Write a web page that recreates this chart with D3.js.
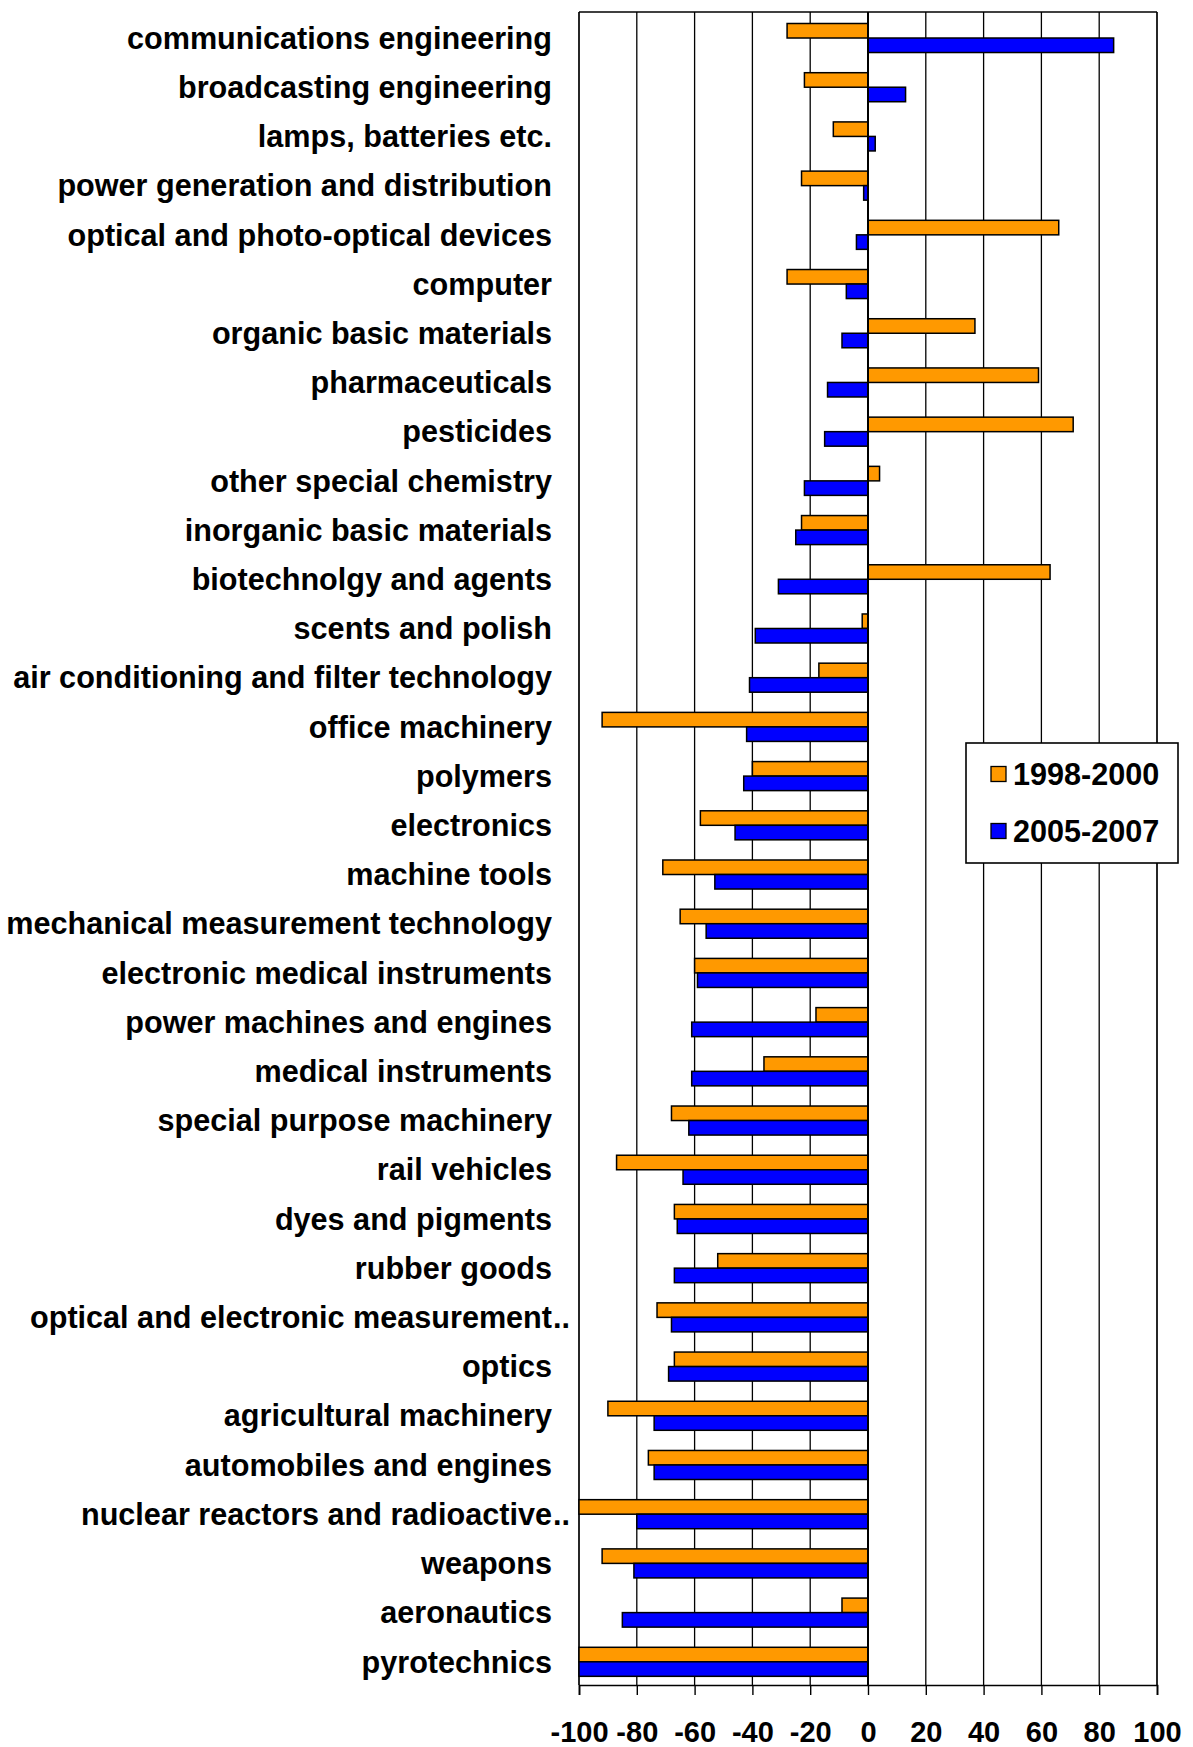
<!DOCTYPE html>
<html>
<head>
<meta charset="utf-8">
<script src="https://cdn.jsdelivr.net/npm/d3@7"></script>
<style>
  body { margin: 0; background: #fff; }
  svg { display: block; font-family: "Liberation Sans", Arial, sans-serif; font-weight: bold; }
</style>
</head>
<body>
<svg id="chart" width="1193" height="1747"></svg>
<script>
const categories = [
  "communications engineering", "broadcasting engineering", "lamps, batteries etc.",
  "power generation and distribution", "optical and photo-optical devices", "computer",
  "organic basic materials", "pharmaceuticals", "pesticides", "other special chemistry",
  "inorganic basic materials", "biotechnolgy and agents", "scents and polish",
  "air conditioning and filter technology", "office machinery", "polymers", "electronics",
  "machine tools", "mechanical measurement technology", "electronic medical instruments",
  "power machines and engines", "medical instruments", "special purpose machinery",
  "rail vehicles", "dyes and pigments", "rubber goods", "optical and electronic measurement..",
  "optics", "agricultural machinery", "automobiles and engines",
  "nuclear reactors and radioactive..", "weapons", "aeronautics", "pyrotechnics"
];
const seriesNames = ["1998-2000", "2005-2007"];
const values1998 = [-28, -22, -12, -23, 66, -28, 37, 59, 71, 4, -23, 63, -2, -17, -92, -40,
  -58, -71, -65, -60, -18, -36, -68, -87, -67, -52, -73, -67, -90, -76, -100, -92, -9, -100];
const values2005 = [85, 13, 2.5, -1.5, -4, -7.5, -9, -14, -15, -22, -25, -31, -39, -41, -42, -43,
  -46, -53, -56, -59, -61, -61, -62, -64, -66, -67, -68, -69, -74, -74, -80, -81, -85, -100];
const xTicks = [-100, -80, -60, -40, -20, 0, 20, 40, 60, 80, 100];
const colors = ["#FF9900", "#0000FF"];

const svg = d3.select("#chart");
const plot = { left: 579, right: 1157, top: 12, bottom: 1685 };

const x = d3.scaleLinear().domain([-100, 100]).range([plot.left, plot.right]);
const y0 = d3.scaleBand().domain(categories).range([plot.top, plot.bottom])
  .paddingInner(0.41).paddingOuter(0.205).align(0.57);
const y1 = d3.scaleBand().domain(seriesNames).range([0, y0.bandwidth()]);

const rows = categories.map((c, i) => ({ cat: c, vals: [values1998[i], values2005[i]] }));

// gridlines
svg.append("g")
  .selectAll("line")
  .data(xTicks.filter((t) => t !== 0))
  .join("line")
  .attr("x1", (d) => x(d)).attr("x2", (d) => x(d))
  .attr("y1", plot.top).attr("y2", plot.bottom)
  .attr("stroke", "#000")
  .attr("stroke-width", (d) => (Math.abs(d) === 100 ? 1.7 : 1.3));

svg.append("line")
  .attr("x1", plot.left).attr("x2", plot.right)
  .attr("y1", plot.top).attr("y2", plot.top)
  .attr("stroke", "#000").attr("stroke-width", 1.7);

// bars
const groups = svg.append("g")
  .selectAll("g")
  .data(rows)
  .join("g")
  .attr("transform", (d) => `translate(0,${y0(d.cat)})`);

groups.selectAll("rect")
  .data((d) => d.vals.map((v, i) => ({ v, s: seriesNames[i], i })))
  .join("rect")
  .attr("x", (d) => x(Math.min(0, d.v)))
  .attr("y", (d) => y1(d.s))
  .attr("width", (d) => Math.abs(x(d.v) - x(0)))
  .attr("height", y1.bandwidth())
  .attr("fill", (d) => colors[d.i])
  .attr("stroke", "#000")
  .attr("stroke-width", 1.5);

// zero axis
svg.append("line")
  .attr("x1", x(0)).attr("x2", x(0))
  .attr("y1", plot.top).attr("y2", plot.bottom)
  .attr("stroke", "#000").attr("stroke-width", 2);

// bottom axis
const xAxis = svg.append("g")
  .attr("transform", `translate(0,${plot.bottom})`)
  .call(d3.axisBottom(x).tickValues(xTicks).tickSize(10).tickPadding(26).tickFormat(d3.format("d")));
xAxis.select(".domain").attr("stroke", "#000").attr("stroke-width", 1.7);
xAxis.selectAll(".tick line").attr("stroke", "#000").attr("stroke-width", 1.4);
xAxis.selectAll(".tick text")
  .attr("fill", "#000")
  .style("font-size", "29px")
  .style("font-family", "'Liberation Sans', Arial, sans-serif")
  .style("font-weight", "bold")
  .text((d) => String(d).replace("\u2212", "-"));

// category labels
const labelX = 552;
const labels = svg.append("g").style("font-size", "30.6px").attr("fill", "#000");
labels.selectAll("text.main")
  .data(categories)
  .join("text")
  .attr("class", "main")
  .attr("x", labelX)
  .attr("y", (d) => y0(d) + y0.bandwidth() / 2)
  .attr("dy", "0.35em")
  .attr("text-anchor", "end")
  .text((d) => d.replace(/\.\.$/, ""));
labels.selectAll("text.dots")
  .data(categories.filter((d) => d.endsWith("..")))
  .join("text")
  .attr("class", "dots")
  .attr("x", labelX + 1)
  .attr("y", (d) => y0(d) + y0.bandwidth() / 2)
  .attr("dy", "0.35em")
  .text("..");

// legend
const legend = svg.append("g").attr("transform", "translate(966,743)");
legend.append("rect")
  .attr("width", 212).attr("height", 120)
  .attr("fill", "#fff").attr("stroke", "#000").attr("stroke-width", 1.6);
const items = legend.selectAll("g.item")
  .data(seriesNames)
  .join("g")
  .attr("class", "item")
  .attr("transform", (d, i) => `translate(0,${31 + i * 57})`);
items.append("rect")
  .attr("x", 25).attr("y", -7.5)
  .attr("width", 15).attr("height", 15)
  .attr("fill", (d, i) => colors[i])
  .attr("stroke", "#000").attr("stroke-width", 1.3);
items.append("text")
  .attr("x", 47)
  .attr("dy", "0.36em")
  .style("font-size", "30.6px")
  .text((d) => d);
</script>
</body>
</html>
